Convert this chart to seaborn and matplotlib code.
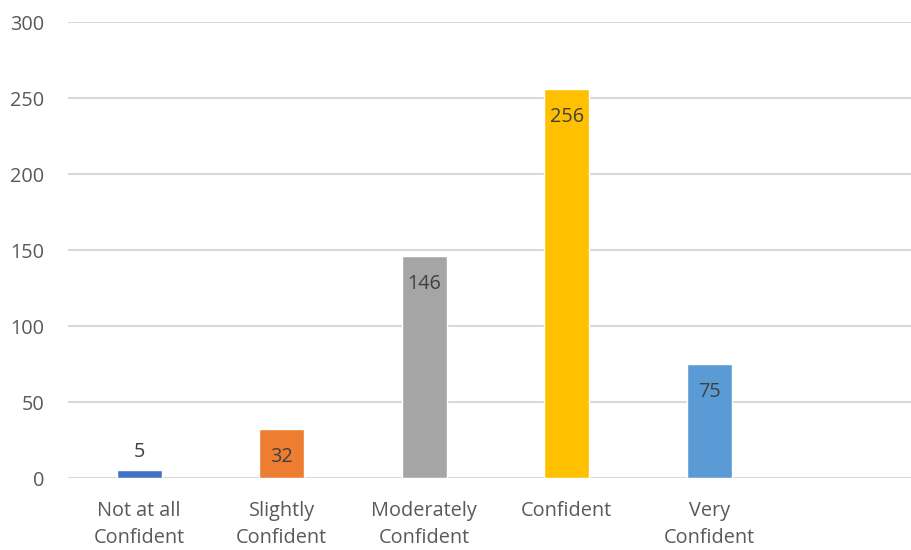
import matplotlib
matplotlib.use("Agg")
import matplotlib.pyplot as plt
import seaborn as sns
import pandas as pd

categories = ["Not at all\nConfident", "Slightly\nConfident", "Moderately\nConfident",
              "Confident", "Very\nConfident"]
counts = [5, 32, 146, 256, 75]
colors = ["#4472C4", "#ED7D31", "#A5A5A5", "#FFC000", "#5B9BD5"]
y_ticks = [0, 50, 100, 150, 200, 250, 300]

sns.set_theme(style="white")
plt.rcParams["font.family"] = ["Open Sans", "DejaVu Sans"]

df = pd.DataFrame({"category": categories, "count": counts})

fig = plt.figure(figsize=(9.12, 5.5), dpi=100)
ax = fig.add_axes([68 / 912, 72 / 550, 1 - 68 / 912, (478 - 22) / 550])

sns.barplot(data=df, x="category", y="count", hue="category", palette=colors,
            width=0.316, legend=False, ax=ax, saturation=1, zorder=3)

ax.set_ylim(0, 300)
ax.set_xlim(-0.5, 5.423)
ax.set_yticks(y_ticks)
ax.yaxis.grid(True, color="#D9D9D9", linewidth=1.5, zorder=0)
ax.set_axisbelow(True)
for s in ax.spines.values():
    s.set_visible(False)
ax.set_xlabel("")
ax.set_ylabel("")
ax.tick_params(axis="both", length=0, labelsize=14.3, labelcolor="#595959")
ax.tick_params(axis="y", pad=17)
ax.tick_params(axis="x", pad=16.5)
for lbl in ax.get_xticklabels():
    lbl.set_linespacing(1.5)

# value labels at the inside end of each bar; short bars get the label above
for i, v in enumerate(counts):
    if v < 15:
        ax.annotate(str(v), (i, v), xytext=(0, 13), textcoords="offset points",
                    ha="center", va="center", fontsize=14.3, color="#404040")
    else:
        ax.annotate(str(v), (i, v), xytext=(0, -20), textcoords="offset points",
                    ha="center", va="center", fontsize=14.3, color="#404040")

fig.savefig("out.png", dpi=100)
